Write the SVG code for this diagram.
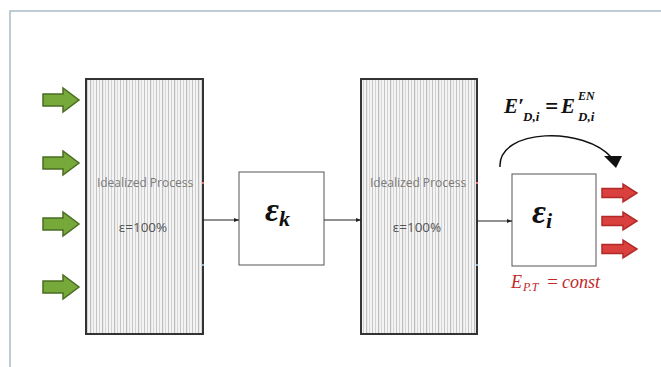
<svg xmlns="http://www.w3.org/2000/svg" width="661" height="367" viewBox="0 0 661 367">
  <style>
    .proc { fill: url(#stripes); stroke: #333; stroke-width: 2; }
    .box { fill: #fff; stroke: #555; stroke-width: 1; }
    .lbl { font-family: "Open Sans", "Liberation Sans", sans-serif; font-size: 12px; fill: #7c7c7c; text-anchor: middle; }
    .pct { font-family: "Open Sans", "Liberation Sans", sans-serif; font-size: 13.5px; fill: #555; text-anchor: middle; }
    .eps { font-family: "Liberation Serif", serif; font-style: italic; font-weight: bold; fill: #111; }
    .math { font-family: "Liberation Serif", serif; font-style: italic; font-weight: bold; fill: #111; }
    .red { font-family: "Liberation Serif", serif; font-style: italic; fill: #c0282a; }
    .conn { stroke: #222; stroke-width: 1; fill: none; }
    .in { fill: #77a83a; stroke: #4a6d22; stroke-width: 1.5; }
    .out { fill: #d9403e; stroke: #b22a28; stroke-width: 1.5; }
  </style>
  <defs>
    <pattern id="stripes" patternUnits="userSpaceOnUse" width="12" height="10">
      <rect width="12" height="10" fill="#f4f4f4"/>
      <rect x="0" width="1" height="10" fill="#c4c4c4"/>
      <rect x="3" width="1" height="10" fill="#d2d2d2"/>
      <rect x="6" width="1.2" height="10" fill="#bdbdbd"/>
      <rect x="9" width="1" height="10" fill="#d6d6d6"/>
    </pattern>
    <marker id="tip" markerWidth="6" markerHeight="6" refX="5" refY="3" orient="auto" markerUnits="userSpaceOnUse">
      <path d="M0,1 L5,3 L0,5 Z" fill="#222"/>
    </marker>
    <path id="fatIn" d="M0,-6 H20 V-12 L36,0 L20,12 V6 H0 Z"/>
    <path id="fatOut" d="M0,-4.5 H21 V-9 L35,0 L21,9 V4.5 H0 Z"/>
  </defs>

  <!-- frame -->
  <path d="M10,367 V11 H661" fill="none" stroke="#a9bcc6" stroke-width="1.5"/>

  <!-- inflow arrows -->
  <g id="inflows">
    <use href="#fatIn" class="in" x="43" y="100"/>
    <use href="#fatIn" class="in" x="43" y="163"/>
    <use href="#fatIn" class="in" x="43" y="224"/>
    <use href="#fatIn" class="in" x="43" y="287"/>
  </g>

  <g id="process1">
    <rect class="proc" x="86" y="79" width="117" height="255"/>
    <text class="lbl" x="145" y="187">Idealized Process</text>
    <text class="pct" x="143" y="232">ε=100%</text>
    <rect x="202" y="182" width="2" height="2" fill="#e87070"/>
    <rect x="202" y="264" width="2" height="2" fill="#7fb0d8"/>
  </g>

  <g id="epsk">
    <rect class="box" x="239" y="172" width="85" height="93"/>
    <text class="eps" x="265" y="221" font-size="34">ε<tspan font-size="22" dy="5">k</tspan></text>
  </g>

  <g id="process2">
    <rect class="proc" x="361" y="79" width="116" height="255"/>
    <text class="lbl" x="418" y="187">Idealized Process</text>
    <text class="pct" x="417" y="232">ε=100%</text>
    <rect x="476" y="182" width="2" height="2" fill="#e87070"/>
    <rect x="476" y="264" width="2" height="2" fill="#7fb0d8"/>
  </g>

  <g id="epsi">
    <rect class="box" x="512" y="174" width="84" height="92"/>
    <text class="eps" x="532" y="223" font-size="34">ε<tspan font-size="22" dy="5">i</tspan></text>
  </g>

  <g id="connectors">
    <line class="conn" x1="203" y1="220" x2="239" y2="220" marker-end="url(#tip)"/>
    <line class="conn" x1="324" y1="220" x2="361" y2="220" marker-end="url(#tip)"/>
    <line class="conn" x1="477" y1="221" x2="512" y2="221" marker-end="url(#tip)"/>
    <path d="M500,167 C498,128 585,126 612,158" fill="none" stroke="#111" stroke-width="1.5"/>
    <path d="M604,156 L622,156 L616,168 Z" fill="#111"/>
  </g>

  <!-- outflow arrows -->
  <g id="outflows">
    <use href="#fatOut" class="out" x="602" y="193"/>
    <use href="#fatOut" class="out" x="602" y="221"/>
    <use href="#fatOut" class="out" x="602" y="249"/>
  </g>

  <g id="formulas">
    <text class="math" x="504" y="113" font-size="21">E′</text>
    <text class="math" x="523" y="121" font-size="13">D,i</text>
    <text class="math" x="545" y="114" font-size="23" font-style="normal">=</text>
    <text class="math" x="561" y="113" font-size="21">E</text>
    <text class="math" x="578" y="100" font-size="12">EN</text>
    <text class="math" x="578" y="121" font-size="13">D,i</text>
    <text class="red" x="511" y="288" font-size="18">E</text>
    <text class="red" x="523" y="291" font-size="12">P.T</text>
    <text class="red" x="546" y="288" font-size="19" font-style="normal">=</text>
    <text class="red" x="562" y="288" font-size="18">const</text>
  </g>
</svg>
